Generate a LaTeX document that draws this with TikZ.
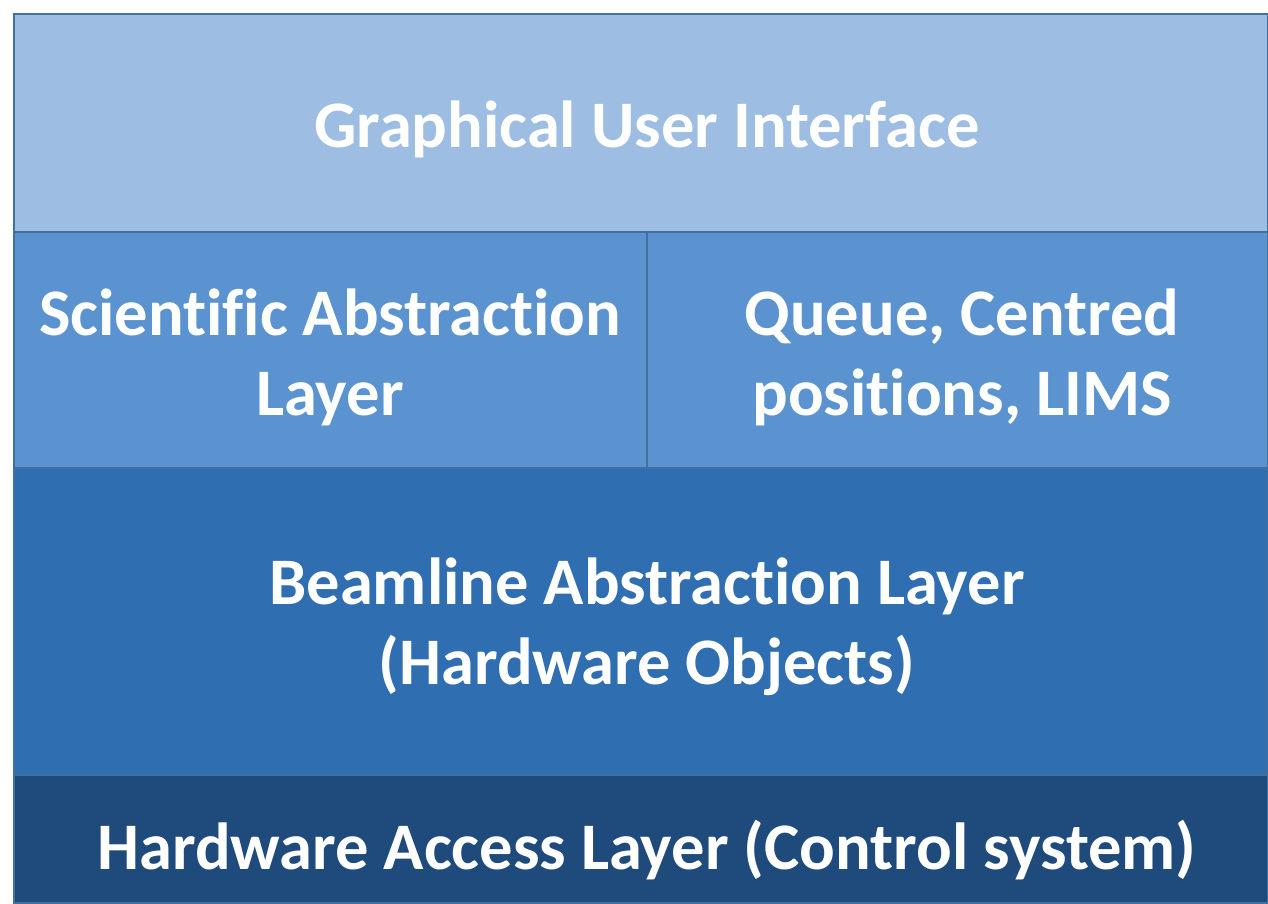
\documentclass[tikz,border=0pt]{standalone}
\usepackage{fontspec}
\setmainfont{Carlito}[Ligatures=NoCommon]
\definecolor{guiC}{HTML}{9DBDE2}
\definecolor{midC}{HTML}{5B93D0}
\definecolor{beamC}{HTML}{2E6EB1}
\definecolor{hwC}{HTML}{1F4A7C}
\definecolor{edgeC}{HTML}{41709F}
\begin{document}
\begin{tikzpicture}[x=1pt,y=1pt,
  layer/.style={draw=edgeC, line width=1.6pt, inner sep=0pt, outer sep=0pt},
  lbl/.style={text=white, font=\fontsize{66.5}{80}\selectfont\bfseries, align=center, inner sep=0pt}]
\useasboundingbox (0,0) rectangle (1268,903);
\fill[white] (0,0) rectangle (1268,903);
% layers
\path[layer, fill=hwC]   (14,0)   rectangle (1268,128) node[pos=.5] (hw) {};
\path[layer, fill=beamC] (14,128) rectangle (1268,435) node[pos=.5] (beam) {};
\path[layer, fill=midC]  (14,435) rectangle (647,671) node[pos=.5] (sci) {};
\path[layer, fill=midC]  (647,435) rectangle (1268,671) node[pos=.5] (queue) {};
\path[layer, fill=guiC]  (14,671) rectangle (1268,889) node[pos=.5] (gui) {};
% labels
\node[lbl] (guit) at (647,774) {Graphical User Interface};
\node[lbl] (scit) at (330,546) {Scientific Abstraction\\Layer};
\node[lbl] (queuet) at (962,546) {Queue, Centred\\positions, LIMS};
\node[lbl] (beamt) at (647,276) {Beamline Abstraction Layer\\(Hardware Objects)};
\node[lbl] (hwt) at (647,53) {Hardware Access Layer (Control system)};
\end{tikzpicture}
\end{document}
